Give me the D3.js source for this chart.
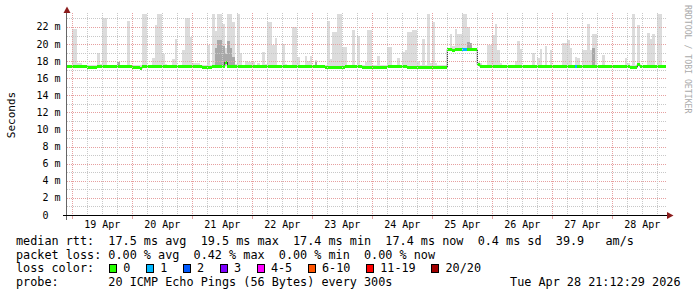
<!DOCTYPE html>
<html><head><meta charset="utf-8">
<script src="https://cdn.jsdelivr.net/npm/d3@7"></script>
<style>
html,body{margin:0;padding:0;background:#fff;}
svg{display:block;font-family:"DejaVu Sans Mono",monospace;}
</style>
</head><body>
<svg id="c" width="697" height="297"></svg>
<script>
// ---------- data ----------
const startTime = Date.UTC(2026, 3, 18, 21, 52);
const endTime   = Date.UTC(2026, 3, 28, 21, 52);
const firstHour = Date.UTC(2026, 3, 18, 22, 0);   // hourly bins start here

// median rtt per hour (ms)
const medianRtt = [
17.4,17.4,17.4,17.4,17.4,17.4,17.4,17.4,17.3,17.3,
17.3,17.3,17.4,17.4,17.4,17.4,17.4,17.4,17.4,17.4,
17.4,17.4,17.4,17.4,17.4,17.4,17.3,17.3,17.3,17.2,
17.4,17.4,17.4,17.4,17.4,17.4,17.4,17.4,17.4,17.4,
17.4,17.4,17.4,17.4,17.4,17.4,17.4,17.4,17.4,17.4,
17.4,17.4,17.4,17.4,17.3,17.3,17.3,17.3,17.4,17.4,
17.4,17.4,17.4,17.9,17.4,17.4,17.4,17.4,17.4,17.4,
17.4,17.4,17.4,17.4,17.4,17.4,17.4,17.4,17.4,17.4,
17.4,17.4,17.4,17.4,17.4,17.4,17.4,17.4,17.4,17.4,
17.4,17.4,17.4,17.4,17.4,17.4,17.4,17.4,17.4,17.4,
17.4,17.4,17.4,17.3,17.3,17.3,17.3,17.3,17.3,17.3,
17.3,17.4,17.4,17.4,17.4,17.4,17.4,17.4,17.3,17.3,
17.3,17.3,17.3,17.3,17.3,17.3,17.3,17.3,17.4,17.4,
17.4,17.4,17.4,17.4,17.4,17.4,17.3,17.3,17.3,17.3,
17.3,17.3,17.3,17.3,17.3,17.3,17.3,17.3,17.3,17.3,
17.3,17.3,19.4,19.4,19.3,19.4,19.4,19.4,19.4,19.4,
19.4,19.4,19.4,19.4,17.6,17.4,17.4,17.4,17.4,17.4,
17.4,17.4,17.4,17.4,17.4,17.4,17.4,17.4,17.4,17.4,
17.4,17.4,17.4,17.4,17.4,17.4,17.4,17.4,17.4,17.4,
17.4,17.4,17.4,17.4,17.4,17.4,17.4,17.4,17.4,17.4,
17.4,17.4,17.4,17.4,17.4,17.4,17.4,17.4,17.4,17.4,
17.4,17.4,17.4,17.4,17.4,17.4,17.4,17.4,17.4,17.4,
17.4,17.4,17.4,17.4,17.4,17.3,17.3,17.3,17.6,17.4,
17.4,17.4,17.4,17.4,17.4,17.4,17.4,17.4,17.4,17.4
];

// top of the smoke (highest ping) per hour (ms)
const smokeTop = [
17.6,17.6,21.8,21.8,17.8,17.8,17.6,17.6,17.6,17.6,
17.6,17.6,19.0,17.7,23.1,23.1,17.6,17.6,17.6,17.6,
17.9,17.6,17.6,17.6,22.7,17.6,17.6,17.6,17.6,17.6,
23.5,23.5,17.6,17.6,18.4,22.2,23.5,23.5,18.8,17.7,
17.6,17.6,18.3,20.6,17.6,17.6,19.3,23.1,23.1,20.8,
17.8,17.8,17.8,17.6,17.6,17.6,19.9,17.6,23.5,21.5,
23.5,23.5,22.3,19.5,23.5,23.5,22.6,17.7,23.5,19.0,
17.6,18.0,17.9,17.9,17.9,17.6,17.8,17.6,19.1,17.7,
22.6,22.6,19.9,20.7,17.6,17.6,20.0,17.7,17.6,17.6,
22.0,22.0,18.5,17.6,17.6,18.6,18.0,18.6,17.6,18.1,
17.6,17.6,17.6,17.6,22.7,18.3,21.4,21.4,23.5,23.5,
19.7,19.7,17.6,17.6,21.6,17.6,21.0,17.6,17.6,17.9,
21.6,21.6,17.6,17.6,18.6,17.6,17.6,17.6,19.7,19.7,
17.6,17.6,18.4,17.6,19.1,19.3,21.4,21.4,21.6,21.6,
18.0,17.6,20.6,17.6,23.5,17.8,22.6,17.8,17.6,17.6,
17.6,17.6,19.6,21.2,19.8,21.8,21.2,21.2,23.5,23.5,
22.0,19.6,19.6,19.6,17.9,17.8,17.6,17.6,19.9,19.9,
21.1,22.4,19.3,17.8,17.6,17.6,17.6,17.6,17.6,18.0,
20.4,19.4,17.6,17.6,17.6,17.6,19.0,17.6,18.4,19.4,
17.6,19.8,17.6,19.3,17.6,17.6,17.6,17.6,20.1,20.1,
20.5,19.6,17.6,18.5,18.4,17.6,19.3,19.3,22.4,19.3,
21.2,21.2,17.6,17.6,18.7,17.6,17.6,17.6,17.6,17.6,
17.6,17.6,17.6,18.4,17.8,17.6,23.5,17.6,22.2,17.6,
17.6,17.6,21.3,20.6,21.2,17.6,23.5,23.5,17.6,17.6
];

// denser (darker) smoke: hour index and its top (ms)
const denseHours  = [20,   59,   60,   61,   62,   63,   64,   65,   66,   99,   160,  161,  210];
const denseTop    = [17.9, 19.5, 20.5, 20.5, 19.8, 18.8, 20.4, 19.5, 18.5, 17.9, 20.3, 20.1, 19.5];

// hours with packet loss (count of 20 pings lost)
const lossHours  = [158, 159, 203];
const lossCounts = [1, 1, 1];

const lossLabels = ["0", "1", "2", "3", "4-5", "6-10", "11-19", "20/20"];
const lossUpper  = [0, 1, 2, 3, 5, 10, 19, 20];
const lossColors = ["#26ff00", "#00b8ff", "#0059ff", "#7e00ff", "#ff00ff", "#ff5500", "#ff0000", "#a10000"];

const yTicks = [0, 2, 4, 6, 8, 10, 12, 14, 16, 18, 20, 22];
const dayLabels = ["19 Apr","20 Apr","21 Apr","22 Apr","23 Apr","24 Apr","25 Apr","26 Apr","27 Apr","28 Apr"];

const statNames = ["avg", "max", "min", "now"];
const rttStats  = [17.5, 19.5, 17.4, 17.4];
const rttSd = 0.4;
const amPerS = 39.9;
const lossStats = [0.00, 0.42, 0.00, 0.00];
const probeText = "20 ICMP Echo Pings (56 Bytes) every 300s";
const stampText = "Tue Apr 28 21:12:29 2026";

// ---------- drawing ----------
const HOUR = 3600e3;
const svg = d3.select("#c");
const P = {left: 67, right: 667, top: 14, bottom: 215};
const x = d3.scaleUtc().domain([startTime, endTime]).range([P.left, P.right]);
const y = d3.scaleLinear().domain([0, 23.52]).range([P.bottom, P.top]);

const bins = medianRtt.map((m, i) => ({
  t0: firstHour + i * HOUR, t1: firstHour + (i + 1) * HOUR,
  med: m, top: smokeTop[i], loss: 0, dense: null
}));
lossHours.forEach((h, k) => bins[h].loss = lossCounts[k]);
denseHours.forEach((h, k) => bins[h].dense = denseTop[k]);

svg.append("rect").attr("width", 697).attr("height", 297).attr("fill", "#fff");

svg.append("clipPath").attr("id", "clip").append("rect")
  .attr("x", P.left).attr("y", 0).attr("width", 666 - P.left).attr("height", P.bottom);

const data = svg.append("g").attr("clip-path", "url(#clip)");

// smoke
data.selectAll("rect.smoke").data(bins).join("rect")
  .attr("x", d => x(d.t0)).attr("width", d => x(d.t1) - x(d.t0))
  .attr("y", d => y(d.top)).attr("height", d => Math.max(0, y(d.med - 0.15) - y(d.top)))
  .attr("fill", "#dcdcdc").attr("shape-rendering", "crispEdges");
data.selectAll("rect.dense").data(bins.filter(d => d.dense !== null)).join("rect")
  .attr("x", d => x(d.t0)).attr("width", d => x(d.t1) - x(d.t0))
  .attr("y", d => y(d.dense)).attr("height", d => Math.max(0, y(d.med - 0.15) - y(d.dense)))
  .attr("fill", "#a8a8a8").attr("shape-rendering", "crispEdges");

// grid
const grid = svg.append("g").attr("shape-rendering", "crispEdges");
const minorCol = "#c8c8c8", majorCol = "#e6a0a0";
d3.range(1, 24).forEach(v => {
  grid.append("line").attr("x1", P.left).attr("x2", P.right)
    .attr("y1", Math.round(y(v)) + 0.5).attr("y2", Math.round(y(v)) + 0.5)
    .attr("stroke", v % 2 === 0 ? majorCol : minorCol).attr("stroke-dasharray", "1,1");
});
const sixHours = d3.utcHour.every(6).range(new Date(startTime), new Date(endTime));
sixHours.forEach(t => {
  const isDay = t.getUTCHours() === 0;
  const xx = Math.round(x(t)) + 0.5;
  grid.append("line").attr("x1", xx).attr("x2", xx).attr("y1", 13).attr("y2", P.bottom)
    .attr("stroke", isDay ? majorCol : minorCol).attr("stroke-dasharray", "1,1");
  if (isDay) grid.append("line").attr("x1", xx).attr("x2", xx).attr("y1", P.bottom).attr("y2", 219)
    .attr("stroke", majorCol);
});

// median: thin dark step line, then loss-coloured bands
const medLine = d3.line().curve(d3.curveStepAfter).x(d => x(d[0])).y(d => y(d[1]));
const medPts = bins.map(d => [d.t0, d.med]).concat([[bins[bins.length - 1].t1, bins[bins.length - 1].med]]);
data.append("path").attr("d", medLine(medPts)).attr("fill", "none")
  .attr("stroke", "#202020").attr("stroke-width", 1);
const lossClass = n => lossUpper.findIndex(u => n <= u);
data.selectAll("rect.med").data(bins).join("rect")
  .attr("x", d => x(d.t0)).attr("width", d => x(d.t1) - x(d.t0))
  .attr("y", d => y(d.med) - 1.5).attr("height", 3)
  .attr("fill", d => lossColors[lossClass(d.loss)]).attr("shape-rendering", "crispEdges");

// axes
const ax = svg.append("g").attr("shape-rendering", "crispEdges");
ax.append("line").attr("x1", 66.5).attr("x2", 66.5).attr("y1", 12).attr("y2", 220).attr("stroke", "#666");
ax.append("line").attr("x1", 63).attr("x2", 668).attr("y1", 215.5).attr("y2", 215.5).attr("stroke", "#000");
svg.append("path").attr("d", "M63.5,13 L70.5,13 L67,6.5 Z").attr("fill", "#8b1c1c");
svg.append("path").attr("d", "M667,212 L667,219 L673.5,215.5 Z").attr("fill", "#8b1c1c");

// y labels
svg.append("g").selectAll("text").data(yTicks).join("text")
  .attr("x", 60.5).attr("y", d => y(d) + 3.5).attr("text-anchor", "end")
  .style("white-space", "pre").attr("font-size", "10px").attr("fill", "#000")
  .text(d => d === 0 ? "0  " : d + " m");

// x labels at noon of each day
const noons = dayLabels.map((s, i) => Date.UTC(2026, 3, 19 + i, 12, 0));
svg.append("g").selectAll("text").data(noons).join("text")
  .attr("x", d => x(d)).attr("y", 228).attr("text-anchor", "middle")
  .attr("font-size", "10px").attr("fill", "#000")
  .text((d, i) => dayLabels[i]);

// y title
svg.append("text").attr("transform", "translate(15,115) rotate(-90)")
  .attr("text-anchor", "middle").attr("font-size", "11px").attr("fill", "#000").text("Seconds");

// watermark
svg.append("text").attr("transform", "translate(685,5) rotate(90)")
  .attr("font-size", "8.2px").attr("fill", "#aaaaaa").text("RRDTOOL / TOBI OETIKER");

// legend
const CW = 7.1, FS = "11.8px";
const row1 = "median rtt:  " + rttStats.map((v, i) => v.toFixed(1) + " ms " + statNames[i]).join("  ")
  + "  " + rttSd.toFixed(1) + " ms sd  " + amPerS.toFixed(1) + "   am/s";
const row2 = "packet loss: " + lossStats.map((v, i) => v.toFixed(2) + " % " + statNames[i]).join("  ");
const rows = [[row1, 244.8], [row2, 258.6], ["loss color:", 272.4], ["probe:       " + probeText, 286.2]];
const leg = svg.append("g").attr("font-size", FS).attr("fill", "#000");
rows.forEach(r => leg.append("text").attr("x", 16).attr("y", r[1]).style("white-space", "pre").text(r[0]));
leg.append("text").attr("x", 680.5).attr("y", 286.2).attr("text-anchor", "end").text(stampText);

let lx = 109;
lossLabels.forEach((lab, i) => {
  leg.append("rect").attr("x", lx + 0.5).attr("y", 264.5).attr("width", 7).attr("height", 8)
    .attr("fill", lossColors[i]).attr("stroke", "#000").attr("stroke-width", 1)
    .attr("shape-rendering", "crispEdges");
  leg.append("text").attr("x", lx + 14.3).attr("y", 272.4).text(lab);
  lx += 14.3 + lab.length * CW + 15.5;
});
</script>
</body></html>
